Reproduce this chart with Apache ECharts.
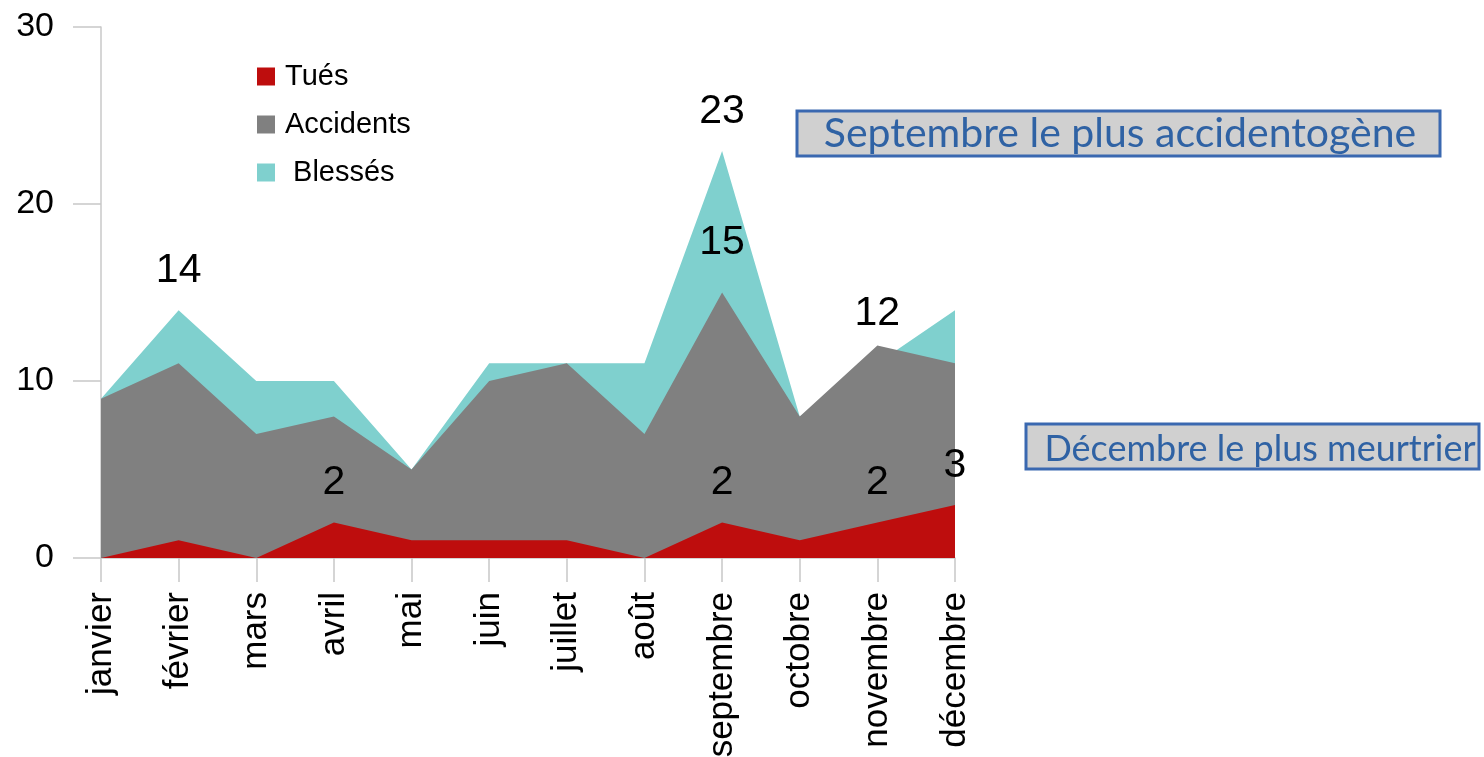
<!DOCTYPE html>
<html>
<head>
<meta charset="utf-8">
<script src="https://cdn.jsdelivr.net/npm/echarts@6/dist/echarts.min.js"></script>
<style>
  html, body { margin: 0; padding: 0; background: #fff; }
  #chart { width: 1484px; height: 757px; }
</style>
</head>
<body>
<div id="chart"></div>
<script>
var months = ['janvier', 'février', 'mars', 'avril', 'mai', 'juin', 'juillet', 'août', 'septembre', 'octobre', 'novembre', 'décembre'];
var blesses = [9, 14, 10, 10, 5, 11, 11, 11, 23, 8, 11, 14];
var accidents = [9, 11, 7, 8, 5, 10, 11, 7, 15, 8, 12, 11];
var tues = [0, 1, 0, 2, 1, 1, 1, 0, 2, 1, 2, 3];

// points that carry a value label
var blessesLabels = [1, 8];
var accidentsLabels = [8, 10];
var tuesLabels = [3, 8, 10, 11];

// a few labels sit nearer/further from their point
var labelDistance = { 'Accidents-8': 29, 'Accidents-10': 11 };

var colors = ['#7fd0ce', '#808080', '#be0d0d'];

var myChart = echarts.init(document.getElementById('chart'));

var labelStyle = {
    show: false,
    position: 'top',
    distance: 19,
    color: '#000',
    fontSize: 41,
    fontFamily: 'Liberation Sans'
};

function withLabels(name, values, idx) {
    return values.map(function (v, i) {
        var lab = { show: idx.indexOf(i) >= 0 };
        var d = labelDistance[name + '-' + i];
        if (d !== undefined) lab.distance = d;
        return { value: v, label: lab };
    });
}

function areaSeries(name, values, idx, color) {
    return {
        name: name,
        type: 'line',
        symbol: 'circle',
        symbolSize: 0,
        showSymbol: true,
        itemStyle: { color: color },
        lineStyle: { width: 0 },
        areaStyle: { color: color, opacity: 1 },
        label: labelStyle,
        data: withLabels(name, values, idx)
    };
}

var option = {
    animation: false,
    color: colors,
    textStyle: { fontFamily: 'Liberation Sans' },
    legend: {
        data: ['Tués', 'Accidents', ' Blessés'],
        orient: 'vertical',
        left: 252,
        top: 57,
        itemWidth: 18,
        itemHeight: 18,
        itemGap: 19,
        icon: 'rect',
        textStyle: { fontSize: 29, color: '#000', fontFamily: 'Liberation Sans', padding: [0, 0, 0, 5] }
    },
    grid: {
        left: 101,
        right: 529,
        top: 27,
        bottom: 199,
        containLabel: false,
        outerBoundsMode: 'none'
    },
    xAxis: {
        type: 'category',
        boundaryGap: false,
        data: months,
        axisLine: { lineStyle: { color: '#c8c8c8', width: 1.5 } },
        axisTick: { show: true, length: 24, lineStyle: { color: '#c8c8c8', width: 1.5 } },
        axisLabel: {
            rotate: 90,
            margin: 34,
            fontSize: 35,
            color: '#000',
            interval: 0
        }
    },
    yAxis: {
        type: 'value',
        min: 0,
        max: 30,
        interval: 10,
        splitLine: { show: false },
        axisLine: { show: true, lineStyle: { color: '#c8c8c8', width: 1.5 } },
        axisTick: { show: true, length: 28, lineStyle: { color: '#c8c8c8', width: 1.5 } },
        axisLabel: { margin: 47, fontSize: 34, color: '#000' }
    },
    series: [
        areaSeries(' Blessés', blesses, blessesLabels, colors[0]),
        areaSeries('Accidents', accidents, accidentsLabels, colors[1]),
        areaSeries('Tués', tues, tuesLabels, colors[2])
    ],
    graphic: [
        {
            type: 'rect',
            shape: { x: 797, y: 111, width: 643, height: 45 },
            style: { fill: '#d0d0d0', stroke: '#3a68b0', lineWidth: 3 }
        },
        {
            type: 'text',
            x: 1120, y: 134,
            style: {
                text: 'Septembre le plus accidentogène',
                fill: '#2f62a4',
                font: '41px Lato',
                align: 'center',
                verticalAlign: 'middle'
            }
        },
        {
            type: 'rect',
            shape: { x: 1026, y: 424, width: 453, height: 45 },
            style: { fill: '#d0d0d0', stroke: '#3a68b0', lineWidth: 3 }
        },
        {
            type: 'text',
            x: 1260, y: 449,
            style: {
                text: 'Décembre le plus meurtrier',
                fill: '#2f62a4',
                font: '36px Lato',
                align: 'center',
                verticalAlign: 'middle'
            }
        }
    ]
};

myChart.setOption(option);
</script>
</body>
</html>
